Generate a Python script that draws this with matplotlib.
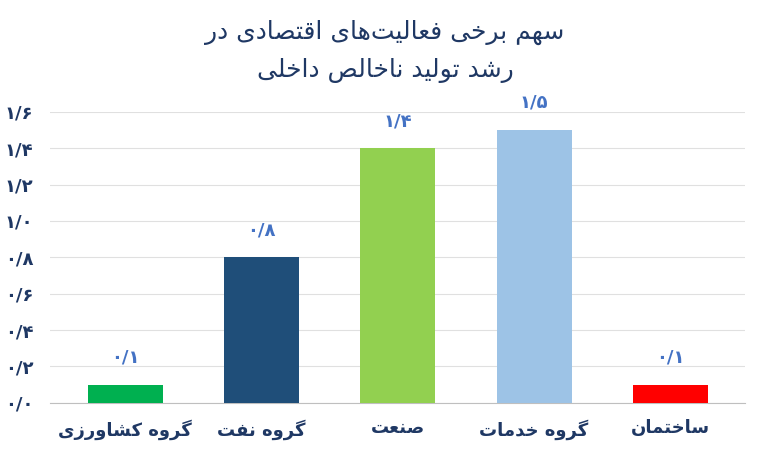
import matplotlib
matplotlib.use("Agg")
import matplotlib.pyplot as plt

categories = ["گروه کشاورزی", "گروه نفت", "صنعت", "گروه خدمات", "ساختمان"]
values = [0.1, 0.8, 1.4, 1.5, 0.1]
value_labels = ["۰/۱", "۰/۸", "۱/۴", "۱/۵", "۰/۱"]
yticks = [0, 0.2, 0.4, 0.6, 0.8, 1.0, 1.2, 1.4, 1.6]
ytick_labels = ["۰/۰", "۰/۲", "۰/۴", "۰/۶", "۰/۸", "۱/۰", "۱/۲", "۱/۴", "۱/۶"]
title_lines = ["سهم برخی فعالیت\u200cهای اقتصادی در", "رشد تولید ناخالص داخلی"]
colors = ["#00B050", "#1F4E79", "#92D050", "#9DC3E6", "#FF0000"]

FORMS = {
    'ا': (0xFE8D, 0xFE8E, None, None), 'ب': (0xFE8F, 0xFE90, 0xFE91, 0xFE92),
    'ت': (0xFE95, 0xFE96, 0xFE97, 0xFE98), 'ح': (0xFEA1, 0xFEA2, 0xFEA3, 0xFEA4),
    'خ': (0xFEA5, 0xFEA6, 0xFEA7, 0xFEA8), 'د': (0xFEA9, 0xFEAA, None, None),
    'ذ': (0xFEAB, 0xFEAC, None, None), 'ر': (0xFEAD, 0xFEAE, None, None),
    'ز': (0xFEAF, 0xFEB0, None, None), 'س': (0xFEB1, 0xFEB2, 0xFEB3, 0xFEB4),
    'ش': (0xFEB5, 0xFEB6, 0xFEB7, 0xFEB8), 'ص': (0xFEB9, 0xFEBA, 0xFEBB, 0xFEBC),
    'ع': (0xFEC9, 0xFECA, 0xFECB, 0xFECC), 'ف': (0xFED1, 0xFED2, 0xFED3, 0xFED4),
    'ق': (0xFED5, 0xFED6, 0xFED7, 0xFED8), 'ل': (0xFEDD, 0xFEDE, 0xFEDF, 0xFEE0),
    'م': (0xFEE1, 0xFEE2, 0xFEE3, 0xFEE4), 'ن': (0xFEE5, 0xFEE6, 0xFEE7, 0xFEE8),
    'ه': (0xFEE9, 0xFEEA, 0xFEEB, 0xFEEC), 'و': (0xFEED, 0xFEEE, None, None),
    'ی': (0xFBFC, 0xFBFD, 0xFBFE, 0xFBFF), 'ک': (0xFB8E, 0xFB8F, 0xFB90, 0xFB91),
    'گ': (0xFB92, 0xFB93, 0xFB94, 0xFB95),
}

def shape(s):
    out = []
    for i, c in enumerate(s):
        if c not in FORMS:
            if c != '\u200c':
                out.append(c)
            continue
        f = FORMS[c]
        prev = s[i-1] if i > 0 else ''
        nxt = s[i+1] if i + 1 < len(s) else ''
        jp = prev in FORMS and FORMS[prev][2] is not None
        jn = nxt in FORMS and f[2] is not None
        if jp and jn:
            cp = f[3]
        elif jp:
            cp = f[1]
        elif jn:
            cp = f[2]
        else:
            cp = f[0]
        out.append(chr(cp))
    return ''.join(out[::-1])

plt.rcParams['font.family'] = ['DejaVu Sans']
fig, ax = plt.subplots(figsize=(7.7, 4.7), dpi=100)
fig.subplots_adjust(left=0.065, right=0.968, top=0.762, bottom=0.143)
x = list(range(len(categories)))
ax.bar(x, values, width=0.55, color=colors, zorder=3)
for xi, v, lab in zip(x, values, value_labels):
    ax.text(xi, v + 0.1, lab, ha='center', va='bottom', color='#4472C4',
            fontsize=13, fontweight='bold')
ax.set_ylim(0, 1.6)
ax.set_xlim(-0.55, 4.55)
ax.set_yticks(yticks)
ax.set_yticklabels(ytick_labels, fontsize=13, fontweight='bold', color='#1F3864')
ax.set_xticks(x)
ax.set_xticklabels([shape(c) for c in categories], fontsize=13, fontweight='bold', color='#1F3864')
ax.tick_params(length=0, pad=12)
ax.grid(axis='y', color='#E0E0E0', linewidth=0.8, zorder=0)
for s in ['top', 'right', 'left']:
    ax.spines[s].set_visible(False)
ax.spines['bottom'].set_color('#BFBFBF')
fig.text(0.5, 0.93, shape(title_lines[0]), ha='center', va='center', fontsize=18, color='#1F3864')
fig.text(0.5, 0.85, shape(title_lines[1]), ha='center', va='center', fontsize=18, color='#1F3864')
fig.savefig('out.png', dpi=100)
